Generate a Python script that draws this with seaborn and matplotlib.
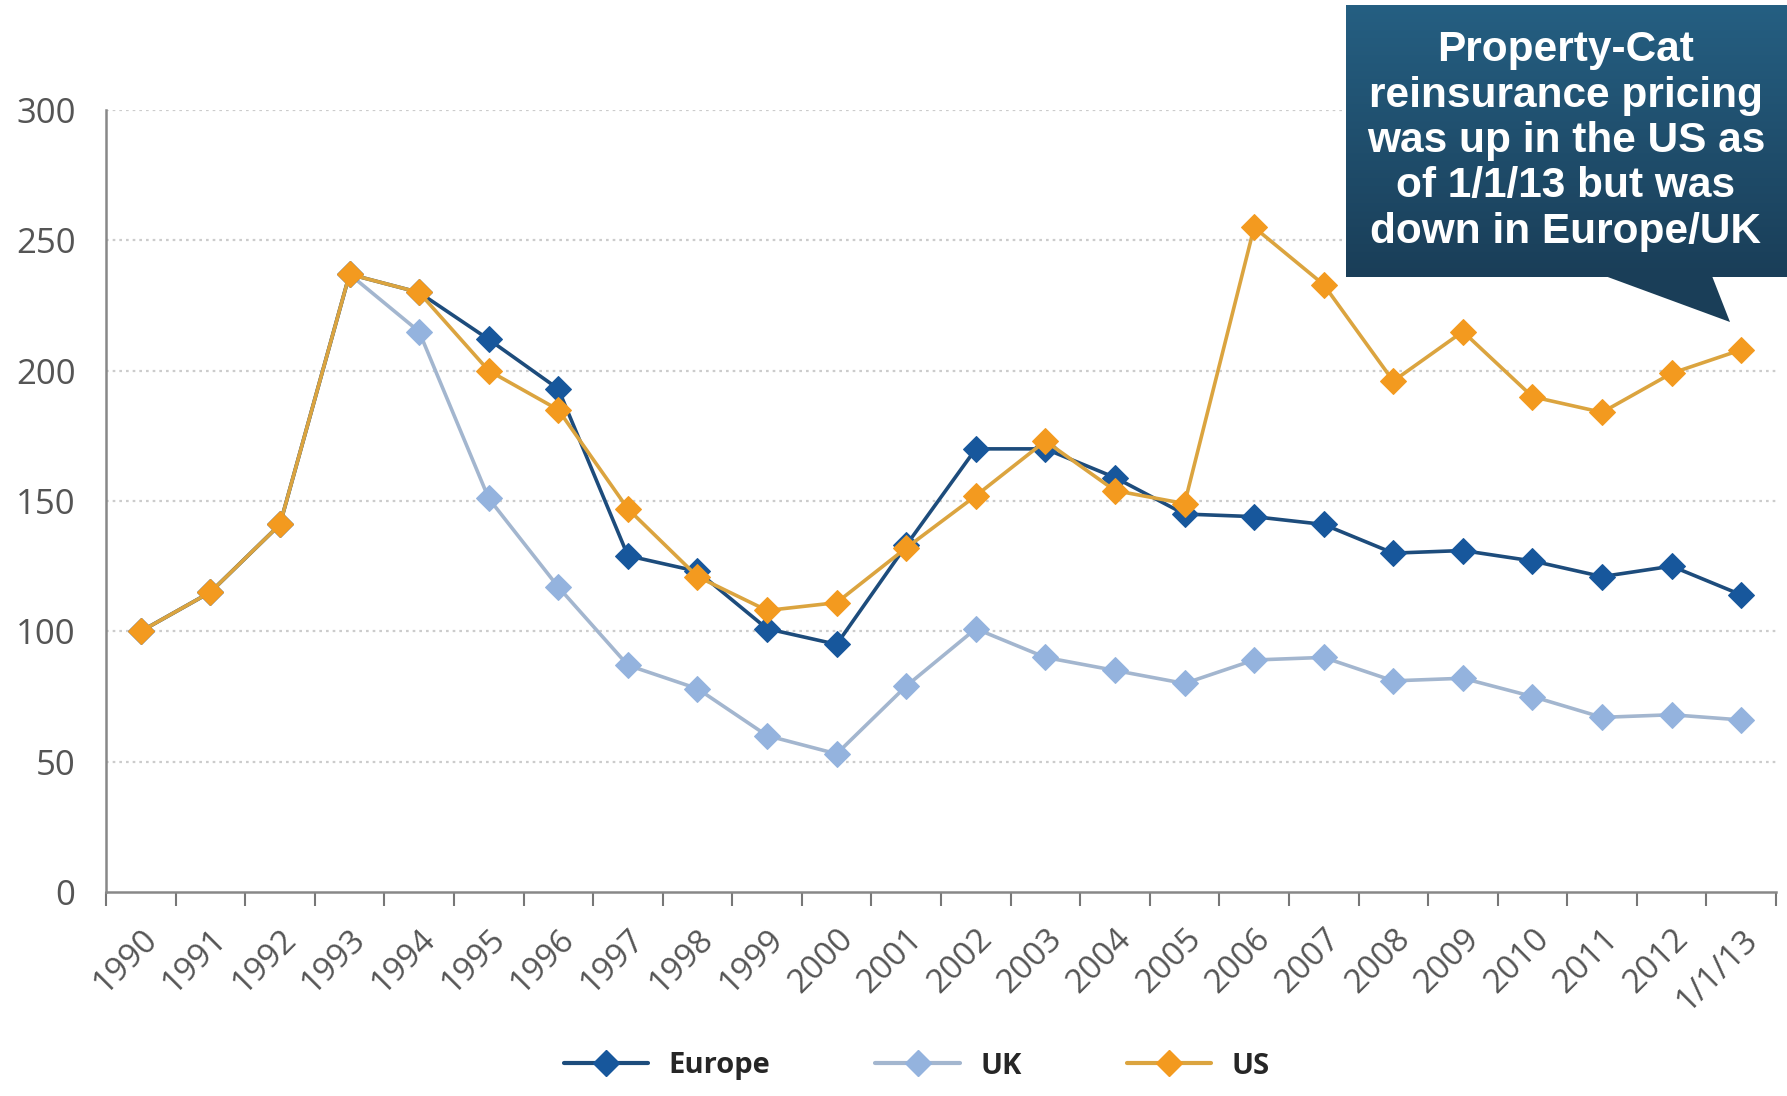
import numpy as np
import pandas as pd
import matplotlib
matplotlib.use("Agg")
import matplotlib.pyplot as plt
import seaborn as sns
from matplotlib.patches import Polygon
from matplotlib.lines import Line2D

categories = ["1990", "1991", "1992", "1993", "1994", "1995", "1996", "1997", "1998", "1999",
              "2000", "2001", "2002", "2003", "2004", "2005", "2006", "2007", "2008", "2009",
              "2010", "2011", "2012", "1/1/13"]
europe = [100, 115, 141, 237, 230, 212, 193, 129, 123, 101, 95, 133, 170, 170, 159, 145,
          144, 141, 130, 131, 127, 121, 125, 114]
uk = [100, 115, 141, 237, 215, 151, 117, 87, 78, 60, 53, 79, 101, 90, 85, 80,
      89, 90, 81, 82, 75, 67, 68, 66]
us = [100, 115, 141, 237, 230, 200, 185, 147, 121, 108, 111, 132, 152, 173, 154, 149,
      255, 233, 196, 215, 190, 184, 199, 208]
yticks = [0, 50, 100, 150, 200, 250, 300]
note = "Property-Cat\nreinsurance pricing\nwas up in the US as\nof 1/1/13 but was\ndown in Europe/UK"

sns.set_theme(style="white")
plt.rcParams['font.family'] = ['Open Sans', 'DejaVu Sans']

W, H = 1787, 1096
fig = plt.figure(figsize=(W / 100, H / 100), dpi=100)
ax = fig.add_axes([106 / W, 1 - 892 / H, (1776 - 106) / W, (892 - 110) / H])

x = np.arange(len(categories))
series = [
    ("UK", uk, "#a3b6cf", "#94b3de", 2),
    ("Europe", europe, "#1d4c7c", "#17579c", 3),
    ("US", us, "#dba43f", "#f39a1f", 4),
]
for name, vals, lc, mc, z in series:
    df = pd.DataFrame({"x": x, "y": vals})
    sns.lineplot(data=df, x="x", y="y", ax=ax, color=lc, linewidth=2.6, marker="D",
                 markersize=13.5, markerfacecolor=mc, markeredgecolor=mc, zorder=z,
                 sort=False, legend=False)

ax.set_xlim(-0.5, len(categories) - 0.5)
ax.set_ylim(0, 300)
ax.set_yticks(yticks)
ax.set_yticklabels([str(v) for v in yticks])
for v in yticks[1:]:
    ax.axhline(v, color="#cccccc", linestyle=(0, (1.2, 1.8)), linewidth=1.6, zorder=0)

ax.set_xticks(np.arange(-0.5, len(categories), 1.0))
ax.set_xticklabels([])
ax.set_xticks(x, minor=True)
ax.set_xticklabels(categories, minor=True, rotation=45, ha="right", va="top",
                   rotation_mode="anchor")
ax.tick_params(axis="x", which="major", length=10, width=1.5, color="#777777", direction="out",
               bottom=True)
ax.tick_params(axis="x", which="minor", length=0, pad=22, labelsize=24, labelcolor="#555555")
ax.tick_params(axis="y", length=0, pad=22, labelsize=25, labelcolor="#555555")
for s in ["top", "right"]:
    ax.spines[s].set_visible(False)
for s in ["left", "bottom"]:
    ax.spines[s].set_color("#888888")
    ax.spines[s].set_linewidth(1.8)
ax.set_xlabel("")
ax.set_ylabel("")

handles = [
    Line2D([], [], color="#1d4c7c", lw=3, marker="D", markersize=13.5,
           markerfacecolor="#17579c", markeredgecolor="#17579c"),
    Line2D([], [], color="#a3b6cf", lw=3, marker="D", markersize=13.5,
           markerfacecolor="#94b3de", markeredgecolor="#94b3de"),
    Line2D([], [], color="#dba43f", lw=3, marker="D", markersize=13.5,
           markerfacecolor="#f39a1f", markeredgecolor="#f39a1f"),
]
fig.legend(handles, ["Europe", "UK", "US"], loc="center", bbox_to_anchor=(0.513, 1 - 1066 / H),
           ncol=3, frameon=False, handlelength=2.9, columnspacing=3.6, handletextpad=0.7,
           prop={"family": "Open Sans", "weight": "bold", "size": 21})

# callout box with gradient
bx0, by0, bx1, by1 = 1346, 5, 1787, 277
bax = fig.add_axes([bx0 / W, 1 - by1 / H, (bx1 - bx0) / W, (by1 - by0) / H])
top = np.array([0x25, 0x5f, 0x82]) / 255
bot = np.array([0x1a, 0x3e, 0x58]) / 255
t = np.linspace(0, 1, 256)[:, None]
grad = (top[None, :] * (1 - t) + bot[None, :] * t)[:, None, :]
bax.imshow(grad, aspect="auto", extent=[0, 1, 0, 1])
bax.set_axis_off()
tail = Polygon([[1605 / W, 1 - 276 / H], [1712 / W, 1 - 276 / H], [1730 / W, 1 - 322 / H]],
               closed=True, transform=fig.transFigure, facecolor="#1a3e58", edgecolor="none")
fig.patches.append(tail)
fig.text(1566 / W, 1 - 141 / H, note, ha="center", va="center", color="white",
         fontsize=30.5, fontweight="bold", family=["Liberation Sans", "DejaVu Sans"],
         linespacing=1.17)

fig.savefig("out.png", dpi=100)
